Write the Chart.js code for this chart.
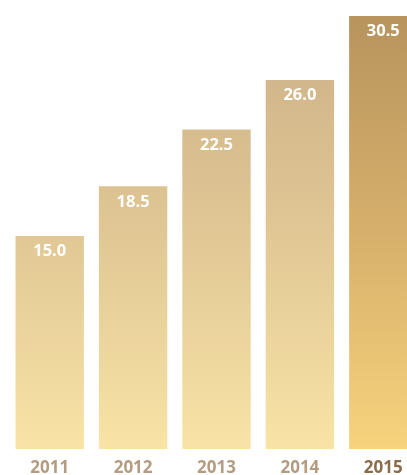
<!DOCTYPE html>
<html>
<head>
<meta charset="utf-8">
<script src="https://cdn.jsdelivr.net/npm/chart.js@4"></script>
<style>
    html, body { margin: 0; padding: 0; background: #fff; overflow: hidden; }
    #wrap { width: 425px; height: 475px; }
</style>
</head>
<body>
<div id="wrap"><canvas id="chart"></canvas></div>
<script>
const years = ['2011', '2012', '2013', '2014', '2015'];
const values = [15.0, 18.5, 22.5, 26.0, 30.5];

// gradient fill across the whole plot, last bar highlighted
const barFill = (ctx) => {
    const area = ctx.chart.chartArea;
    if (!area) return '#e6cf9c';
    const g = ctx.chart.ctx.createLinearGradient(0, area.top, 0, area.bottom);
    if (ctx.dataIndex === years.length - 1) {
        g.addColorStop(0, '#b8945e');
        g.addColorStop(0.5, '#d6b06b');
        g.addColorStop(1, '#f7d37d');
    } else {
        g.addColorStop(0, '#cdb088');
        g.addColorStop(0.5, '#e0c794');
        g.addColorStop(1, '#f9e3a6');
    }
    return g;
};

const valueLabels = {
    id: 'valueLabels',
    afterDatasetsDraw(chart) {
        const { ctx } = chart;
        const meta = chart.getDatasetMeta(0);
        ctx.save();
        ctx.fillStyle = '#ffffff';
        ctx.font = 'bold 16.5px "Open Sans"';
        ctx.textAlign = 'center';
        ctx.textBaseline = 'middle';
        meta.data.forEach((bar, i) => {
            ctx.fillText(values[i].toFixed(1), bar.x, bar.y + 15.5);
        });
        ctx.restore();
    }
};

new Chart(document.getElementById('chart'), {
    type: 'bar',
    data: {
        labels: years,
        datasets: [{
            data: values,
            backgroundColor: barFill,
            borderWidth: 0,
            barPercentage: 0.82,
            categoryPercentage: 1
        }]
    },
    options: {
        responsive: true,
        maintainAspectRatio: false,
        animation: false,
        layout: { padding: { left: 8, top: 16, right: 0, bottom: 0 } },
        plugins: {
            legend: { display: false },
            tooltip: { enabled: false }
        },
        scales: {
            x: {
                grid: { display: false, drawTicks: false },
                border: { display: false },
                afterFit: (axis) => { axis.height = 26; },
                ticks: {
                    padding: 9,
                    font: { family: 'Open Sans', size: 17, weight: 'bold' },
                    color: (c) => c.index === years.length - 1 ? '#8a6d4b' : '#b49c80'
                }
            },
            y: {
                display: false,
                min: 0,
                max: 30.5
            }
        }
    },
    plugins: [valueLabels]
});
</script>
</body>
</html>
